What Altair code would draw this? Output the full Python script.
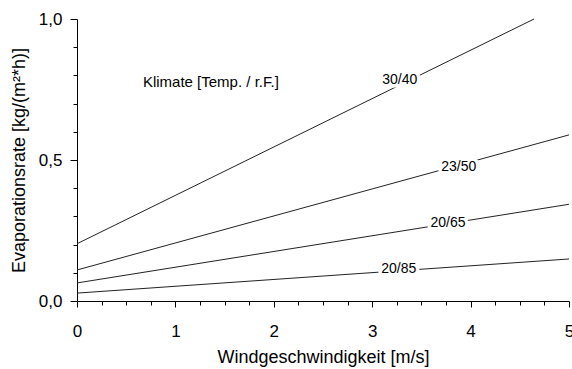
import altair as alt
import pandas as pd

# Data
series = ["30/40", "23/50", "20/65", "20/85"]
x_start = [0.0, 0.0, 0.0, 0.0]
x_end = [4.645, 5.0, 5.0, 5.0]
y_start = [0.203, 0.110, 0.064, 0.028]
y_end = [1.000, 0.589, 0.343, 0.149]
label_x = [3.28, 3.88, 3.77, 3.27]
label_y = [0.784, 0.475, 0.277, 0.113]
x_ticks = [0, 0.25, 0.5, 0.75, 1, 1.25, 1.5, 1.75, 2, 2.25, 2.5, 2.75,
           3, 3.25, 3.5, 3.75, 4, 4.25, 4.5, 4.75, 5]
y_ticks = [0, 0.1, 0.2, 0.3, 0.4, 0.5, 0.6, 0.7, 0.8, 0.9, 1]
note_text = "Klimate [Temp. / r.F.]"
note_x = [0.67]
note_y = [0.777]

FONT = "Liberation Sans"

rows = []
for s, xs, xe, ys, ye in zip(series, x_start, x_end, y_start, y_end):
    rows.append({"series": s, "x": xs, "y": ys, "o": 0})
    rows.append({"series": s, "x": xe, "y": ye, "o": 1})
lines_df = pd.DataFrame(rows)
labels_df = pd.DataFrame({"series": series, "x": label_x, "y": label_y})
note_df = pd.DataFrame({"t": [note_text], "x": note_x, "y": note_y})

x_major = "abs(datum.value - round(datum.value)) < 0.05"
y_major = "(datum.value < 0.05 || abs(datum.value - 0.5) < 0.05 || datum.value > 0.95)"

x_scale = alt.Scale(domain=[0, 5], nice=False, zero=False)
y_scale = alt.Scale(domain=[0, 1], nice=False, zero=False)

x_axis = alt.Axis(
    values=x_ticks,
    title="Windgeschwindigkeit [m/s]",
    labelExpr=f"{x_major} ? format(datum.value, '.0f') : ''",
    tickSize={"condition": {"test": x_major, "value": 6}, "value": 4},
    grid=False,
    labelOverlap=False,
    labelFlush=False,
    domainColor="black",
    tickColor="black",
    labelColor="black",
    titleColor="black",
    labelFont=FONT,
    titleFont=FONT,
    labelFontSize=17,
    titleFontSize=18,
    titleFontWeight="normal",
    labelPadding=16,
    titlePadding=9,
)
y_axis = alt.Axis(
    values=y_ticks,
    title="Evaporationsrate [kg/(m²*h)]",
    labelExpr=f"{y_major} ? replace(format(datum.value, '.1f'), '.', ',') : ''",
    tickSize={"condition": {"test": y_major, "value": 7}, "value": 4},
    grid=False,
    labelOverlap=False,
    labelFlush=False,
    domainColor="black",
    tickColor="black",
    labelColor="black",
    titleColor="black",
    labelFont=FONT,
    titleFont=FONT,
    labelFontSize=17,
    titleFontSize=18,
    titleFontWeight="normal",
    labelPadding=8,
    titlePadding=10,
)

X = alt.X("x:Q", scale=x_scale, axis=x_axis)
Y = alt.Y("y:Q", scale=y_scale, axis=y_axis)

lines = alt.Chart(lines_df).mark_line(color="#222222", strokeWidth=1).encode(
    x=X, y=Y, detail="series:N", order="o:Q",
)

halo = alt.Chart(labels_df).mark_text(
    font=FONT, fontSize=14, color="white", stroke="white", strokeWidth=7,
    strokeJoin="round", align="center", baseline="middle",
).encode(x=X, y=Y, text="series:N")

labels = alt.Chart(labels_df).mark_text(
    font=FONT, fontSize=14, color="black", align="center", baseline="middle",
).encode(x=X, y=Y, text="series:N")

note = alt.Chart(note_df).mark_text(
    font=FONT, fontSize=15, color="black", align="left", baseline="middle",
).encode(x=X, y=Y, text="t:N")

chart = (
    alt.layer(lines, halo, labels, note)
    .properties(
        width=492,
        height=282,
        autosize=alt.AutoSizeParams(type="none"),
        padding={"left": 77, "top": 19, "right": 3, "bottom": 68},
        background="white",
    )
    .configure_view(stroke=None)
    .configure_axis(labelOverlap=False)
)

chart.save("out.html", embed_options={"renderer": "svg", "actions": False})
